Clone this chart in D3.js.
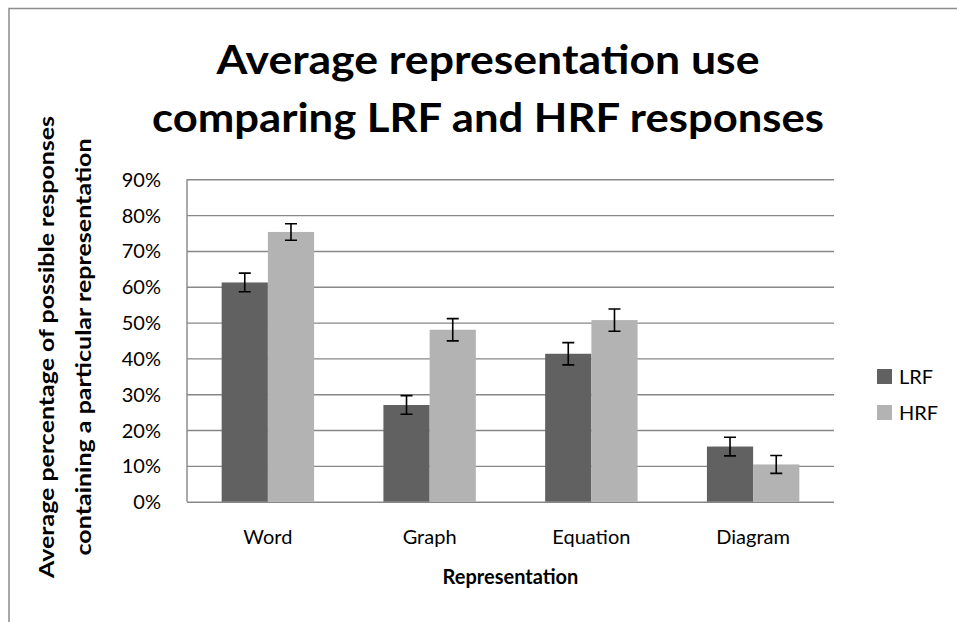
<!DOCTYPE html>
<html lang="en">
<head>
<meta charset="utf-8">
<script src="https://d3js.org/d3.v7.min.js"></script>
<style type="text/css">
body {
	margin: 0;
	background: #fff;
}
text {
	font-family: Lato, "Open Sans", sans-serif;
	fill: #000;
}
</style>
</head>
<body>
<script type="text/javascript">

// Chart data
var categories = ["Word", "Graph", "Equation", "Diagram"];
var seriesNames = ["LRF", "HRF"];
var lrfValues = [61.2, 27.0, 41.3, 15.4];
var hrfValues = [75.3, 48.0, 50.7, 10.4];
var lrfErrors = [2.6, 2.6, 3.1, 2.6];
var hrfErrors = [2.3, 3.1, 3.1, 2.5];
var yTicks = [0, 10, 20, 30, 40, 50, 60, 70, 80, 90];

var width = 957;
var height = 622;

// plot area
var margin = {left: 187, right: 123, top: 179.3, bottom: 120.3};
var plotW = width - margin.left - margin.right;
var plotH = height - margin.top - margin.bottom;

var colors = {LRF: "#616161", HRF: "#b3b3b3"};

var svg = d3.select("body")
            .append("svg")
            .attr("width", width)
            .attr("height", height);

// outer chart border
svg.append("path")
   .attr("d", "M9,622 V8.5 H957")
   .style("fill", "none")
   .style("stroke", "#8c8c8c")
   .style("stroke-width", 1.5);

// title
var titleLines = [
  {text: "Average representation use", y: 74, len: 543},
  {text: "comparing LRF and HRF responses", y: 131.7, len: 672}
];
svg.selectAll(".title")
   .data(titleLines)
   .enter()
   .append("text")
   .attr("class", "title")
   .attr("x", 488)
   .attr("y", function(d) { return d.y; })
   .attr("text-anchor", "middle")
   .attr("textLength", function(d) { return d.len; })
   .attr("lengthAdjust", "spacingAndGlyphs")
   .style("font-size", "40px")
   .style("font-weight", "bold")
   .text(function(d) { return d.text; });

var g = svg.append("g")
           .attr("transform", "translate(" + margin.left + "," + margin.top + ")");

// scales
var x0 = d3.scaleBand()
           .domain(categories)
           .range([0, plotW])
           .paddingInner(1.5 / 3.5)
           .paddingOuter(0.75 / 3.5);

var x1 = d3.scaleBand()
           .domain(seriesNames)
           .range([0, x0.bandwidth()]);

var y = d3.scaleLinear()
          .domain([0, 90])
          .range([plotH, 0]);

// gridlines
var yAxis = d3.axisLeft(y)
              .tickValues(yTicks)
              .tickSize(-plotW)
              .tickFormat(function(d) { return d + "%"; });

var yg = g.append("g").call(yAxis);
yg.select(".domain").remove();
yg.selectAll(".tick line")
  .style("stroke", "#878787")
  .style("stroke-width", 1.4);
yg.selectAll(".tick text")
  .attr("x", -26)
  .attr("dy", "0.35em")
  .style("font-size", "20px")
  .style("font-family", "Lato, sans-serif")
  .style("fill", "#000");

// left axis line
g.append("line")
 .attr("x1", 0).attr("x2", 0)
 .attr("y1", 0).attr("y2", plotH)
 .style("stroke", "#878787")
 .style("stroke-width", 1.4);

// bars
var rows = categories.map(function(c, i) {
  return [
    {cat: c, series: "LRF", value: lrfValues[i], err: lrfErrors[i]},
    {cat: c, series: "HRF", value: hrfValues[i], err: hrfErrors[i]}
  ];
});

var groups = g.selectAll(".group")
              .data(rows)
              .enter()
              .append("g")
              .attr("class", "group")
              .attr("transform", function(d) { return "translate(" + x0(d[0].cat) + ",0)"; });

groups.selectAll("rect")
      .data(function(d) { return d; })
      .enter()
      .append("rect")
      .attr("x", function(d) { return x1(d.series); })
      .attr("width", x1.bandwidth())
      .attr("y", function(d) { return y(d.value); })
      .attr("height", function(d) { return plotH - y(d.value); })
      .style("fill", function(d) { return colors[d.series]; });

// error bars
var errs = groups.selectAll(".err")
                 .data(function(d) { return d; })
                 .enter()
                 .append("path")
                 .attr("class", "err")
                 .attr("d", function(d) {
                   var cx = x1(d.series) + x1.bandwidth() / 2;
                   var top = y(d.value + d.err);
                   var bot = y(d.value - d.err);
                   return "M" + (cx - 6) + "," + top + "H" + (cx + 6) +
                          "M" + cx + "," + top + "V" + bot +
                          "M" + (cx - 6) + "," + bot + "H" + (cx + 6);
                 })
                 .style("fill", "none")
                 .style("stroke", "#000")
                 .style("stroke-width", 1.6);

// category labels
g.selectAll(".cat")
 .data(categories)
 .enter()
 .append("text")
 .attr("class", "cat")
 .attr("x", function(d) { return x0(d) + x0.bandwidth() / 2; })
 .attr("y", 544 - margin.top)
 .attr("text-anchor", "middle")
 .style("font-size", "20px")
 .text(function(d) { return d; });

// x axis title
svg.append("text")
   .attr("x", margin.left + plotW / 2)
   .attr("y", 584)
   .attr("text-anchor", "middle")
   .style("font-size", "20px")
   .style("font-weight", "bold")
   .text("Representation");

// y axis title
var yTitle = [
  {text: "Average percentage of possible responses", x: 54, len: 462},
  {text: "containing a particular representation", x: 91, len: 417}
];
svg.selectAll(".ytitle")
   .data(yTitle)
   .enter()
   .append("text")
   .attr("class", "ytitle")
   .attr("transform", function(d) { return "translate(" + d.x + ",347) rotate(-90)"; })
   .attr("text-anchor", "middle")
   .attr("textLength", function(d) { return d.len; })
   .attr("lengthAdjust", "spacingAndGlyphs")
   .style("font-size", "21px")
   .style("font-weight", "bold")
   .text(function(d) { return d.text; });

// legend
var legend = svg.selectAll(".legend")
                .data(seriesNames)
                .enter()
                .append("g")
                .attr("class", "legend")
                .attr("transform", function(d, i) { return "translate(877," + (369 + i * 36) + ")"; });

legend.append("rect")
      .attr("width", 15)
      .attr("height", 15)
      .style("fill", function(d) { return colors[d]; });

legend.append("text")
      .attr("x", 22)
      .attr("y", 7.5)
      .attr("dy", "0.35em")
      .style("font-size", "20px")
      .text(function(d) { return d; });

</script>
</body>
</html>
